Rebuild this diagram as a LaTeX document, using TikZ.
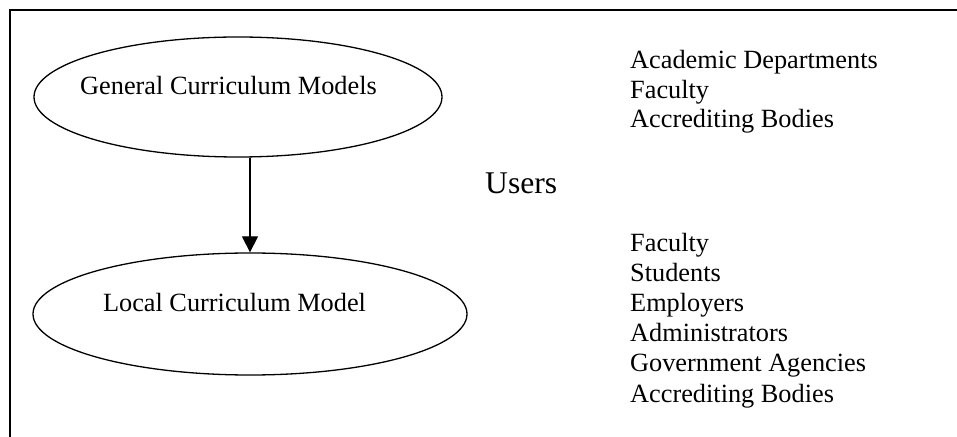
\documentclass[tikz,border=0pt]{standalone}
\usepackage{fontspec}
\setmainfont{Liberation Serif}
\usetikzlibrary{shapes.geometric,arrows.meta}
\begin{document}
\begin{tikzpicture}[x=1bp,y=-1bp,
  oval/.style={draw,ellipse,line width=1.3bp,inner sep=0pt},
  item/.style={anchor=base west,inner sep=0pt,font=\fontsize{26.3bp}{30bp}\selectfont},
  lbl/.style={anchor=base,inner sep=0pt,font=\fontsize{26.3bp}{30bp}\selectfont},
  conn/.style={line width=1.3bp,-{Triangle[length=16bp,width=16bp]}}]
\useasboundingbox (0,0) rectangle (957,437);
% frame
\coordinate (fbl) at (10,437);
\coordinate (ftl) at (10,10);
\coordinate (ftr) at (957,10);
\draw[line width=2bp] (fbl) -- (ftl) -- (ftr);
% ellipses
\node[oval,minimum width=408bp,minimum height=120bp] (gcm) at (238,97) {};
\node[oval,minimum width=434bp,minimum height=122bp] (lcm) at (250,314) {};
\node[lbl] (gcmt) at (228.5,95) {General Curriculum Models};
\node[lbl] (lcmt) at (234.5,312) {Local Curriculum Model};
\draw[conn] (gcm.south -| lcm.north) -- (lcm.north);
% users
\node[anchor=base west,inner sep=0pt,font=\fontsize{31.6bp}{36bp}\selectfont] (users) at (485,194) {Users};
% upper list
\node[item] (u1) at (630,69) {Academic Departments};
\node[item] (u2) at (630,98.5) {Faculty};
\node[item] (u3) at (630,128) {Accrediting Bodies};
% lower list
\node[item] (l1) at (630,252) {Faculty};
\node[item] (l2) at (630,282) {Students};
\node[item] (l3) at (630,312) {Employers};
\node[item] (l4) at (630,342) {Administrators};
\node[item] (l5) at (630,372) {Government Agencies};
\node[item] (l6) at (630,402) {Accrediting Bodies};
\end{tikzpicture}
\end{document}
